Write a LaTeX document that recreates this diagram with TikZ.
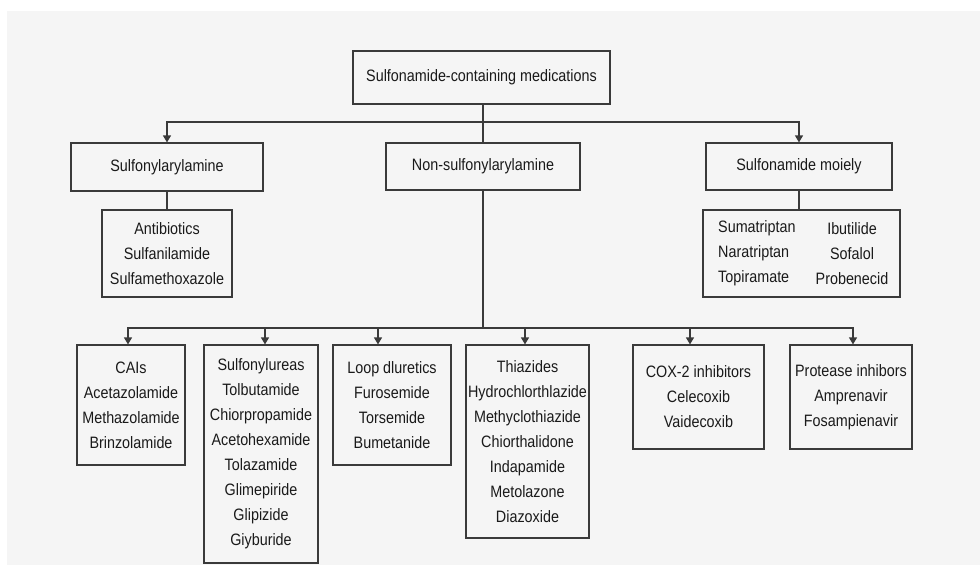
\documentclass[tikz,border=0pt]{standalone}
\usepackage{fontspec}
\setmainfont{Liberation Sans}[FakeStretch=0.87]
\usetikzlibrary{arrows.meta,calc}
\definecolor{bg}{HTML}{F5F5F5}
\definecolor{ln}{HTML}{3A3A3A}
\definecolor{tx}{HTML}{1A1A1A}
\begin{document}
\begin{tikzpicture}[x=1pt,y=-1pt,
  box/.style={draw=ln,line width=1.2pt,fill=bg,inner sep=0pt,align=center,text=tx,
    font=\fontsize{16.5}{25}\selectfont},
  col/.style={inner sep=0pt,text=tx,font=\fontsize{16.5}{25}\selectfont},
  conn/.style={draw=ln,line width=1.2pt},
  arr/.style={conn,-{Triangle[width=8pt,length=7pt]}}]
\useasboundingbox (0,0) rectangle (980,565);
\fill[white] (0,0) rectangle (980,565);
\fill[bg] (7,11) rectangle (980,565);
% level 0
\node[box,minimum width=257pt,minimum height=53pt] (top) at (481.5,77.5) {Sulfonamide-containing medications};
% level 1
\node[box,minimum width=192pt,minimum height=48pt] (s1) at (167,167) {Sulfonylarylamine};
\node[box,minimum width=194pt,minimum height=47pt] (s2) at (483,166.5) {Non-sulfonylarylamine};
\node[box,minimum width=186pt,minimum height=47pt] (s3) at (799,166.5) {Sulfonamide moiely};
% level 1 children
\node[box,minimum width=130pt,minimum height=87pt] (abx) at (167,253.5) {Antibiotics\\Sulfanilamide\\Sulfamethoxazole};
\node[box,minimum width=197pt,minimum height=87pt] (mbx) at (801.5,253.5) {};
\node[col,anchor=west,align=left] (mcl) at (718,253.5) {Sumatriptan\\Naratriptan\\Topiramate};
\node[col,align=center] (mcr) at (852,253.5) {Ibutilide\\Sofalol\\Probenecid};
% level 2
\node[box,minimum width=108pt,minimum height=120pt] (cai) at (131,405) {CAIs\\Acetazolamide\\Methazolamide\\Brinzolamide};
\node[box,minimum width=114pt,minimum height=218pt] (sul) at (261,454) {Sulfonylureas\\Tolbutamide\\Chiorpropamide\\Acetohexamide\\Tolazamide\\Glimepiride\\Glipizide\\Giyburide};
\node[box,minimum width=118pt,minimum height=120pt] (loop) at (392,405) {Loop dluretics\\Furosemide\\Torsemide\\Bumetanide};
\node[box,minimum width=123pt,minimum height=193pt] (thz) at (527.5,441.5) {Thiazides\\Hydrochlorthlazide\\Methyclothiazide\\Chiorthalidone\\Indapamide\\Metolazone\\Diazoxide};
\node[box,minimum width=131pt,minimum height=104pt] (cox) at (698.5,397) {COX-2 inhibitors\\Celecoxib\\Vaidecoxib};
\node[box,minimum width=122pt,minimum height=104pt] (pro) at (851,397) {Protease inhibors\\Amprenavir\\Fosampienavir};
% connectors
\coordinate (b1) at (483,122);
\coordinate (b2) at (483,328);
\draw[conn] (b1 |- top.south) -- (s2.north);
\draw[arr] (b1) -| (s1.north);
\draw[arr] (b1) -| (s3.north);
\draw[conn] (s1.south) -- (abx.north);
\draw[conn] (s3.south) -- (s3.south |- mbx.north);
\draw[conn] (s2.south) -- (b2);
\draw[arr] (b2) -| ([xshift=-3pt]cai.north);
\draw[arr] (b2) -| ([xshift=4pt]sul.north);
\draw[arr] (b2) -| ([xshift=-14pt]loop.north);
\draw[arr] (b2) -| ([xshift=-2.5pt]thz.north);
\draw[arr] (b2) -| ([xshift=-8.5pt]cox.north);
\draw[arr] (b2) -| ([xshift=2pt]pro.north);
\end{tikzpicture}
\end{document}
